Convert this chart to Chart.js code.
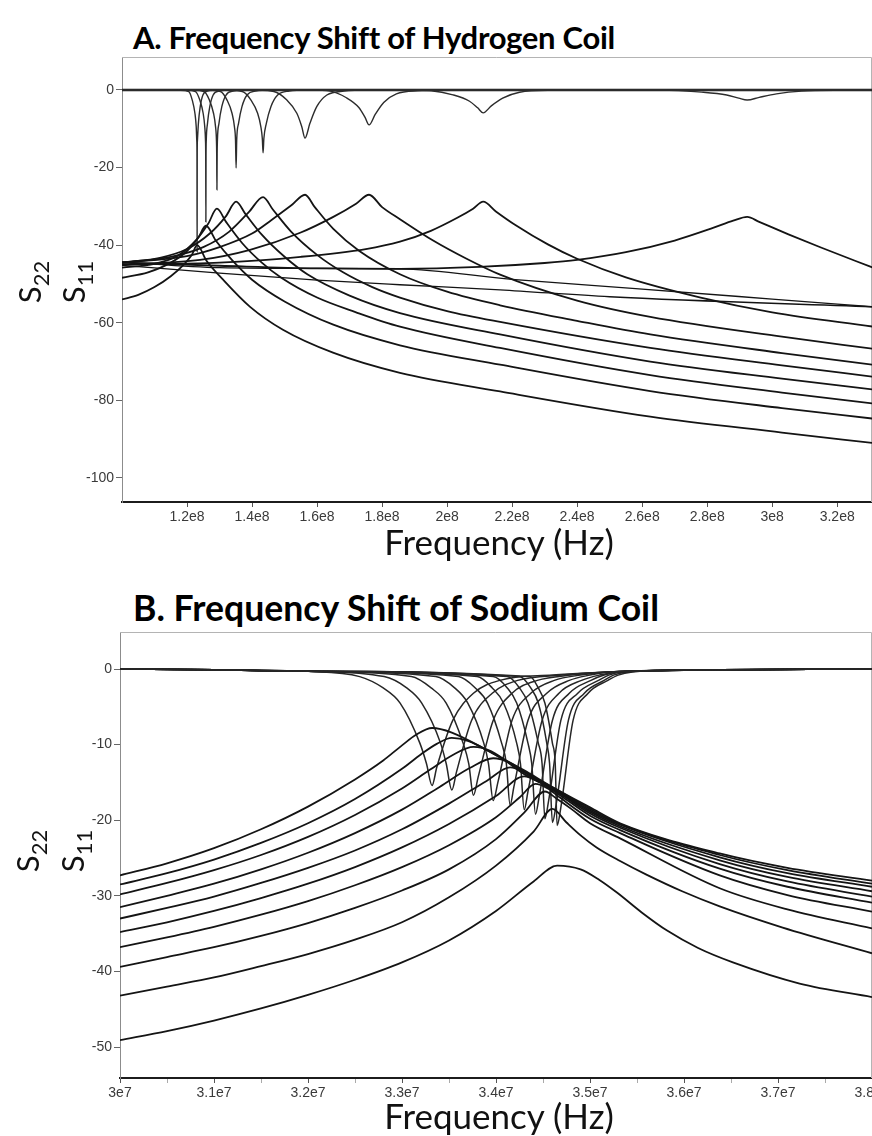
<!DOCTYPE html>
<html>
<head>
<meta charset="utf-8">
<script src="https://cdn.jsdelivr.net/npm/chart.js@4.4.1/dist/chart.umd.min.js"></script>
<style>
  body { margin: 0; width: 872px; height: 1136px; background: #fff; position: relative; overflow: hidden; font-family: Lato, sans-serif; }
  canvas { position: absolute; left: 0; }
  .title { position: absolute; left: 133px; font-weight: 700; line-height: 1; white-space: nowrap; color: #000; }
  .xlab { position: absolute; font-size: 35px; line-height: 1; white-space: nowrap; color: #111; transform: translateX(-50%); }
  .ylab { position: absolute; font-size: 31px; line-height: 1; white-space: nowrap; color: #111; transform: translate(-50%, -50%) rotate(-90deg); }
  .ylab sub { font-size: 22px; vertical-align: -0.35em; }
</style>
</head>
<body>
<div class="title" style="top:22px;font-size:31px;letter-spacing:-0.3px">A. Frequency Shift of Hydrogen Coil</div>
<canvas id="hydro" width="872" height="500" style="top:50px"></canvas>
<div class="xlab" style="left:499px;top:524px">Frequency (Hz)</div>
<div class="ylab" style="left:33px;top:282px">S<sub>22</sub></div>
<div class="ylab" style="left:77px;top:282px">S<sub>11</sub></div>

<div class="title" style="top:590px;font-size:35.6px">B. Frequency Shift of Sodium Coil</div>
<canvas id="sodium" width="872" height="490" style="top:625px"></canvas>
<div class="xlab" style="left:499px;top:1098px">Frequency (Hz)</div>
<div class="ylab" style="left:31px;top:851px">S<sub>22</sub></div>
<div class="ylab" style="left:76px;top:851px">S<sub>11</sub></div>

<script>
// Hydrogen coil, frequency in units of 1e8 Hz, values in dB
const hydroXTicks = [1.2e8, 1.4e8, 1.6e8, 1.8e8, 2e8, 2.2e8, 2.4e8, 2.6e8, 2.8e8, 3e8, 3.2e8];
const hydroYTicks = [-100, -80, -60, -40, -20, 0];

const hydroBase = [[1.0, 0], [3.31, 0]];
const hydroDip1 = [[1.0,0],[1.18,-0.1],[1.2054,-0.4],[1.2161,-2.6],[1.2243,-6],[1.2283,-9.5],[1.23,-13],[1.2306,-16],[1.231,-41.7],[1.2314,-16],[1.232,-13],[1.235,-8.6],[1.2406,-4.3],[1.2489,-1.3],[1.263,-0.3],[1.3,-0.05],[3.31,0]];
const hydroDip2 = [[1.0,0],[1.2,-0.1],[1.226,-0.4],[1.2394,-2.6],[1.2496,-6],[1.2546,-9.5],[1.2568,-13],[1.2575,-17],[1.258,-34],[1.2585,-17],[1.2592,-13],[1.263,-8.6],[1.27,-4.3],[1.2804,-1.3],[1.298,-0.3],[1.34,-0.05],[3.31,0]];
const hydroDip3 = [[1.0,0],[1.22,-0.1],[1.252,-0.4],[1.2688,-2.6],[1.2815,-6],[1.2878,-9.5],[1.2905,-13],[1.2913,-16.5],[1.292,-25.7],[1.2927,-16.5],[1.2935,-13],[1.2983,-8.6],[1.307,-4.3],[1.32,-1.3],[1.342,-0.3],[1.39,-0.05],[3.31,0]];
const hydroDip4 = [[1.0,0],[1.27,-0.1],[1.303,-0.4],[1.3231,-2.6],[1.3384,-6],[1.3459,-9.5],[1.3492,-13],[1.351,-20.1],[1.3528,-13],[1.3585,-8.6],[1.369,-4.3],[1.3846,-1.3],[1.411,-0.3],[1.46,-0.05],[3.31,0]];
const hydroDip5 = [[1.0,0],[1.33,-0.1],[1.37,-0.4],[1.3968,-2.6],[1.4172,-6],[1.4272,-9.5],[1.4316,-12.5],[1.434,-16.2],[1.4364,-12.5],[1.444,-8.6],[1.458,-4.3],[1.4788,-1.3],[1.514,-0.3],[1.57,-0.05],[3.31,0]];
const hydroDip6 = [[1.0,0],[1.42,-0.1],[1.467,-0.4],[1.5072,-2.6],[1.5378,-6],[1.5528,-9.4],[1.563,-12.4],[1.578,-8.6],[1.599,-4.3],[1.6302,-1.3],[1.683,-0.3],[1.76,-0.05],[3.31,0]];
const hydroDip7 = [[1.0,0],[1.58,-0.05],[1.64,-0.3],[1.6903,-2],[1.7285,-4.5],[1.7473,-7],[1.76,-9],[1.7788,-6.3],[1.805,-3.2],[1.844,-1.0],[1.91,-0.2],[2.0,-0.05],[3.31,0]];
const hydroDip8 = [[1.0,0],[1.88,-0.05],[1.951,-0.2],[2.018,-1.25],[2.069,-2.9],[2.094,-4.6],[2.111,-5.9],[2.136,-4.1],[2.171,-2.1],[2.223,-0.6],[2.311,-0.1],[3.31,0]];
const hydroDip9 = [[1.0,0],[2.6,-0.02],[2.683,-0.1],[2.783,-0.55],[2.86,-1.3],[2.897,-2.1],[2.923,-2.6],[2.96,-1.9],[3.013,-1.0],[3.091,-0.3],[3.223,-0.05],[3.31,0]];

const hydroPeak1 = [[1.0,-54],[1.05,-52.8],[1.1,-50.8],[1.15,-48],[1.19,-45],[1.215,-42.5],[1.231,-40],[1.26,-44],[1.311,-48.9],[1.394,-55.9],[1.495,-61.8],[1.649,-67.7],[1.855,-72.9],[2.163,-77.7],[2.625,-84.2],[3.03,-88.3],[3.31,-91]];
const hydroPeak2 = [[1.0,-48.4],[1.08,-47],[1.15,-44.5],[1.2,-41.5],[1.235,-38],[1.258,-35],[1.29,-39],[1.34,-44],[1.4,-48.9],[1.5,-54.5],[1.65,-60.5],[1.855,-65.8],[2.163,-70.8],[2.625,-77.6],[3.03,-82],[3.31,-84.7]];
const hydroPeak3 = [[1.0,-45.8],[1.1,-44.8],[1.17,-42.8],[1.23,-38.5],[1.265,-34.5],[1.292,-30.6],[1.32,-34],[1.37,-39.5],[1.43,-44.5],[1.49,-48.4],[1.6,-53.5],[1.72,-57.3],[1.855,-61],[2.163,-66.5],[2.625,-73.5],[3.03,-78],[3.31,-80.8]];
const hydroPeak4 = [[1.0,-44.5],[1.12,-43.2],[1.2,-41],[1.27,-37],[1.32,-32.5],[1.351,-28.8],[1.38,-32],[1.43,-37.3],[1.5,-43],[1.57,-47.5],[1.7,-53],[1.855,-57.5],[2.163,-63],[2.625,-70],[3.03,-74.4],[3.31,-77.2]];
const hydroPeak5 = [[1.0,-44.5],[1.15,-43],[1.25,-40.5],[1.33,-36.5],[1.39,-31.5],[1.434,-27.6],[1.464,-30.8],[1.52,-36.5],[1.6,-42.5],[1.68,-47],[1.77,-50.8],[1.855,-53.5],[2.0,-57],[2.163,-59.8],[2.625,-66.5],[3.03,-71],[3.31,-73.9]];
const hydroPeak6 = [[1.0,-44.5],[1.2,-42.8],[1.3,-40.5],[1.4,-37],[1.46,-33.5],[1.52,-29.8],[1.563,-27],[1.593,-30.2],[1.65,-35.8],[1.73,-41.5],[1.855,-47.5],[2.0,-52],[2.163,-55.5],[2.4,-59.5],[2.625,-63],[3.03,-67.8],[3.31,-70.8]];
const hydroPeak7 = [[1.0,-45],[1.24,-43.8],[1.394,-41.2],[1.548,-36.8],[1.65,-32.7],[1.72,-29.3],[1.76,-27],[1.8,-30.2],[1.855,-33.3],[1.957,-38.8],[2.06,-43.5],[2.163,-47.6],[2.4,-54.3],[2.625,-58.5],[3.03,-63.6],[3.31,-66.7]];
const hydroPeak8 = [[1.0,-45],[1.3,-44.5],[1.55,-43],[1.75,-41],[1.855,-39.1],[1.95,-36.3],[2.03,-33],[2.08,-30.6],[2.111,-28.8],[2.15,-31.3],[2.21,-34.8],[2.31,-39.8],[2.4,-43.5],[2.55,-48.3],[2.78,-53.5],[3.0,-57.3],[3.31,-61]];
const hydroPeak9 = [[1.0,-44.5],[1.3,-45.3],[1.6,-46],[1.855,-46.1],[2.1,-45.6],[2.3,-44.6],[2.4,-43.8],[2.55,-41.8],[2.7,-38.8],[2.82,-35.5],[2.88,-33.7],[2.923,-32.7],[2.96,-34],[3.05,-37.2],[3.15,-40.6],[3.31,-45.8]];
const hydroLineA = [[1.0,-44.3],[1.3,-45.8],[1.6,-46],[1.855,-46.1],[2.2,-48.8],[2.58,-51.2],[3.0,-53.9],[3.31,-55.9]];
const hydroLineB = [[1.0,-45.2],[1.3,-47.2],[1.6,-49],[1.855,-50.2],[2.163,-51.5],[2.5,-53.3],[3.31,-55.9]];

// Sodium coil, frequency in units of 1e7 Hz, values in dB
const sodiumXTicks = [3e7, 3.1e7, 3.2e7, 3.3e7, 3.4e7, 3.5e7, 3.6e7, 3.7e7, 3.8e7];
const sodiumXMinor = [3.05e7, 3.15e7, 3.25e7, 3.35e7, 3.45e7, 3.55e7, 3.65e7, 3.75e7];
const sodiumYTicks = [-50, -40, -30, -20, -10, 0];

const sodiumDip1 = [[3.0,0],[3.1,-0.1],[3.2,-0.3],[3.255,-1],[3.28,-2.5],[3.298,-4.5],[3.319,-9.8],[3.326,-12.5],[3.332,-15.4],[3.337,-13],[3.354,-6.8],[3.376,-3.2],[3.404,-1.5],[3.46,-0.8],[3.52,-0.4],[3.6,-0.15],[3.8,0]];
const sodiumDip2 = [[3.0,0],[3.1,-0.1],[3.2,-0.3],[3.281,-1],[3.305,-2.5],[3.321,-4.5],[3.341,-9.8],[3.347,-12.5],[3.353,-16],[3.358,-13.6],[3.374,-6.8],[3.396,-3.2],[3.423,-1.5],[3.47,-0.8],[3.52,-0.4],[3.6,-0.15],[3.8,0]];
const sodiumDip3 = [[3.0,0],[3.1,-0.1],[3.2,-0.3],[3.31,-1],[3.331,-2.5],[3.347,-4.5],[3.365,-9.8],[3.371,-12.5],[3.376,-16.7],[3.381,-14.3],[3.397,-6.8],[3.417,-3.2],[3.444,-1.5],[3.48,-0.8],[3.52,-0.4],[3.6,-0.15],[3.8,0]];
const sodiumDip4 = [[3.0,0],[3.1,-0.1],[3.2,-0.3],[3.336,-1],[3.356,-2.5],[3.37,-4.5],[3.387,-9.8],[3.392,-12.5],[3.397,-17.4],[3.402,-15],[3.417,-6.8],[3.437,-3.2],[3.462,-1.5],[3.49,-0.8],[3.52,-0.4],[3.6,-0.15],[3.8,0]];
const sodiumDip5 = [[3.0,0],[3.1,-0.1],[3.2,-0.3],[3.36,-1],[3.378,-2.5],[3.391,-4.5],[3.406,-9.8],[3.411,-12.5],[3.415,-18],[3.419,-15.6],[3.434,-6.8],[3.454,-3.2],[3.478,-1.5],[3.5,-0.8],[3.52,-0.4],[3.6,-0.15],[3.8,0]];
const sodiumDip6 = [[3.0,0],[3.1,-0.1],[3.2,-0.3],[3.38,-1],[3.396,-2.5],[3.408,-4.5],[3.422,-9.8],[3.426,-12.5],[3.43,-18.6],[3.434,-16.2],[3.449,-6.8],[3.467,-3.2],[3.491,-1.5],[3.51,-0.8],[3.53,-0.4],[3.6,-0.15],[3.8,0]];
const sodiumDip7 = [[3.0,0],[3.1,-0.1],[3.2,-0.3],[3.397,-1],[3.412,-2.5],[3.422,-4.5],[3.434,-9.8],[3.438,-12.5],[3.442,-19.2],[3.446,-16.8],[3.46,-6.8],[3.478,-3.2],[3.501,-1.5],[3.515,-0.8],[3.53,-0.4],[3.6,-0.15],[3.8,0]];
const sodiumDip8 = [[3.0,0],[3.1,-0.1],[3.2,-0.3],[3.412,-1],[3.425,-2.5],[3.434,-4.5],[3.445,-9.8],[3.449,-12.5],[3.452,-19.8],[3.456,-17.4],[3.469,-6.8],[3.487,-3.2],[3.509,-1.5],[3.52,-0.8],[3.535,-0.4],[3.6,-0.15],[3.8,0]];
const sodiumDip9 = [[3.0,0],[3.1,-0.1],[3.2,-0.3],[3.425,-1],[3.437,-2.5],[3.445,-4.5],[3.454,-9.8],[3.457,-12.5],[3.46,-20.3],[3.464,-17.9],[3.477,-6.8],[3.494,-3.2],[3.515,-1.5],[3.525,-0.8],[3.54,-0.4],[3.6,-0.15],[3.8,0]];
const sodiumDip10 = [[3.0,0],[3.1,-0.1],[3.2,-0.3],[3.436,-1],[3.445,-2.5],[3.452,-4.5],[3.46,-9.8],[3.463,-12.5],[3.465,-20.7],[3.469,-18.3],[3.482,-6.8],[3.498,-3.2],[3.519,-1.5],[3.53,-0.8],[3.545,-0.4],[3.6,-0.15],[3.8,0]];

const sodiumPeak1 = [[3.0,-27.3],[3.05,-25.7],[3.1,-23.7],[3.15,-21.2],[3.2,-18.2],[3.25,-14.6],[3.28,-12.1],[3.3,-10.1],[3.315,-8.7],[3.332,-7.8],[3.353,-8.4],[3.39,-10.7],[3.43,-13.4],[3.46,-15.6],[3.5,-18.3],[3.532,-20.4],[3.638,-24.4],[3.71,-26.3],[3.8,-28]];
const sodiumPeak2 = [[3.0,-28.5],[3.05,-27],[3.1,-25.2],[3.15,-23],[3.2,-20.4],[3.25,-17.2],[3.3,-13.2],[3.32,-11.3],[3.337,-9.9],[3.353,-9.1],[3.37,-9.5],[3.4,-11.4],[3.43,-13.6],[3.468,-16.2],[3.5,-18.5],[3.532,-20.5],[3.638,-24.6],[3.71,-26.6],[3.8,-28.4]];
const sodiumPeak3 = [[3.0,-29.8],[3.05,-28.3],[3.1,-26.6],[3.15,-24.6],[3.2,-22.2],[3.25,-19.3],[3.3,-15.8],[3.33,-13.3],[3.355,-11.3],[3.376,-10.3],[3.395,-10.9],[3.43,-13.9],[3.468,-16.3],[3.5,-18.7],[3.532,-20.6],[3.638,-24.9],[3.71,-27],[3.8,-28.8]];
const sodiumPeak4 = [[3.0,-31.5],[3.05,-30],[3.1,-28.4],[3.15,-26.5],[3.2,-24.3],[3.25,-21.7],[3.3,-18.6],[3.34,-15.6],[3.372,-13.1],[3.397,-11.8],[3.415,-12.4],[3.44,-14.4],[3.468,-16.4],[3.5,-18.9],[3.532,-20.8],[3.638,-25.3],[3.71,-27.5],[3.8,-29.4]];
const sodiumPeak5 = [[3.0,-33],[3.05,-31.6],[3.1,-30.1],[3.15,-28.3],[3.2,-26.3],[3.25,-24],[3.3,-21.2],[3.35,-17.8],[3.39,-14.8],[3.415,-13],[3.432,-13.8],[3.468,-16.5],[3.5,-19.1],[3.532,-21],[3.638,-25.8],[3.71,-28.1],[3.8,-30.1]];
const sodiumPeak6 = [[3.0,-34.8],[3.05,-33.5],[3.1,-32],[3.15,-30.3],[3.2,-28.4],[3.25,-26.2],[3.3,-23.6],[3.35,-20.5],[3.4,-16.8],[3.43,-14.2],[3.445,-14.9],[3.468,-16.7],[3.5,-19.4],[3.532,-21.3],[3.638,-26.4],[3.71,-28.8],[3.8,-30.9]];
const sodiumPeak7 = [[3.0,-36.8],[3.05,-35.5],[3.1,-34.1],[3.15,-32.5],[3.2,-30.7],[3.25,-28.6],[3.3,-26.2],[3.35,-23.3],[3.4,-19.6],[3.425,-17],[3.442,-15.2],[3.455,-15.8],[3.468,-17],[3.5,-19.8],[3.532,-21.7],[3.638,-27.3],[3.71,-29.9],[3.8,-32.1]];
const sodiumPeak8 = [[3.0,-39.4],[3.05,-38.1],[3.1,-36.8],[3.15,-35.3],[3.2,-33.6],[3.25,-31.6],[3.3,-29.3],[3.35,-26.5],[3.4,-22.5],[3.43,-19],[3.452,-16.2],[3.465,-17.2],[3.48,-18.5],[3.5,-20.4],[3.532,-22.4],[3.638,-29],[3.71,-31.8],[3.8,-34.3]];
const sodiumPeak9 = [[3.0,-43.2],[3.05,-42],[3.1,-40.8],[3.15,-39.3],[3.2,-37.7],[3.25,-35.8],[3.3,-33.5],[3.35,-30.2],[3.4,-26],[3.44,-21.5],[3.46,-18.5],[3.475,-20.3],[3.49,-22],[3.507,-23.6],[3.532,-25.4],[3.56,-27.2],[3.598,-29.4],[3.638,-31.4],[3.705,-34.2],[3.8,-37.6]];
const sodiumPeak10 = [[3.0,-49.1],[3.05,-47.9],[3.1,-46.5],[3.15,-44.9],[3.2,-43.1],[3.25,-41.1],[3.3,-38.8],[3.35,-35.9],[3.4,-32],[3.44,-28.1],[3.465,-26],[3.49,-26.5],[3.51,-27.9],[3.529,-29.6],[3.555,-32.2],[3.582,-34.6],[3.615,-36.9],[3.652,-38.8],[3.723,-41.6],[3.8,-43.4]];

const HZ_H = 1e8;
const HZ_NA = 1e7;

function sciLabel(v) {
  const e = Math.floor(Math.log10(v) + 1e-9);
  const m = Math.round(v / Math.pow(10, e) * 100) / 100;
  return m + 'e' + e;
}

function curve(pts, unit, width, color) {
  return {
    data: pts.map(([f, v]) => ({ x: f * unit, y: v })),
    showLine: true,
    borderColor: color || '#141414',
    borderWidth: width,
    pointRadius: 0,
    cubicInterpolationMode: 'monotone',
    fill: false
  };
}

// light box on top and right of the plot area
const framePlugin = {
  id: 'frame',
  beforeDatasetsDraw(chart) {
    const { ctx, chartArea: a } = chart;
    ctx.save();
    ctx.strokeStyle = '#b4b4b4';
    ctx.lineWidth = 1;
    ctx.beginPath();
    ctx.moveTo(a.left, a.top + 0.5);
    ctx.lineTo(a.right - 0.5, a.top + 0.5);
    ctx.lineTo(a.right - 0.5, a.bottom);
    ctx.stroke();
    ctx.restore();
  }
};

function makeChart(id, o) {
  const majors = new Set(o.xTicks);
  const allX = o.xTicks.concat(o.xMinor || []).sort((a, b) => a - b);
  return new Chart(document.getElementById(id), {
    type: 'scatter',
    data: { datasets: o.datasets },
    options: {
      responsive: false,
      animation: false,
      events: [],
      layout: { padding: { top: 7, right: o.padRight, left: 0, bottom: 0 } },
      plugins: { legend: { display: false }, tooltip: { enabled: false } },
      scales: {
        x: {
          type: 'linear',
          min: o.xMin,
          max: o.xMax,
          afterBuildTicks: s => { s.ticks = allX.map(value => ({ value })); },
          afterFit: s => { s.paddingLeft = 0; s.paddingRight = 0; s.height = o.xHeight; },
          border: { color: '#1c1c1c', width: 2 },
          grid: {
            drawOnChartArea: false,
            tickLength: 5,
            tickColor: c => (c.tick && majors.has(c.tick.value)) ? '#555' : '#aaa'
          },
          ticks: {
            autoSkip: false,
            maxRotation: 0,
            padding: 2,
            color: '#3a3a3a',
            font: { family: 'Liberation Sans', size: 14 },
            callback: v => majors.has(v) ? sciLabel(v) : ''
          }
        },
        y: {
          type: 'linear',
          min: o.yMin,
          max: o.yMax,
          afterBuildTicks: s => { s.ticks = o.yTicks.map(value => ({ value })); },
          afterFit: s => { s.width = o.yWidth; s.paddingTop = 0; s.paddingBottom = 0; },
          border: { color: '#8c8c8c', width: 1 },
          grid: { drawOnChartArea: false, tickLength: 6, tickColor: '#666' },
          ticks: {
            padding: 2,
            color: '#3a3a3a',
            font: { family: 'Liberation Sans', size: 14 },
            callback: v => String(v)
          }
        }
      }
    },
    plugins: [framePlugin]
  });
}

const hydroDips = [hydroDip1, hydroDip2, hydroDip3, hydroDip4, hydroDip5, hydroDip6, hydroDip7, hydroDip8, hydroDip9];
const hydroPeaks = [hydroPeak1, hydroPeak2, hydroPeak3, hydroPeak4, hydroPeak5, hydroPeak6, hydroPeak7, hydroPeak8, hydroPeak9];

makeChart('hydro', {
  xMin: 1e8, xMax: 3.307e8, yMin: -106.2, yMax: 8.5,
  xTicks: hydroXTicks, yTicks: hydroYTicks,
  yWidth: 122, xHeight: 48, padRight: 0,
  datasets: [
    curve(hydroLineA, HZ_H, 1.3),
    curve(hydroLineB, HZ_H, 1.3),
    ...hydroPeaks.map(p => curve(p, HZ_H, 1.8)),
    ...hydroDips.map(d => curve(d, HZ_H, 1.4, '#2c2c2c')),
    curve(hydroBase, HZ_H, 2.6)
  ]
});

const sodiumDips = [sodiumDip1, sodiumDip2, sodiumDip3, sodiumDip4, sodiumDip5, sodiumDip6, sodiumDip7, sodiumDip8, sodiumDip9, sodiumDip10];
const sodiumPeaks = [sodiumPeak1, sodiumPeak2, sodiumPeak3, sodiumPeak4, sodiumPeak5, sodiumPeak6, sodiumPeak7, sodiumPeak8, sodiumPeak9, sodiumPeak10];

makeChart('sodium', {
  xMin: 3e7, xMax: 3.8e7, yMin: -54.1, yMax: 4.9,
  xTicks: sodiumXTicks, xMinor: sodiumXMinor, yTicks: sodiumYTicks,
  yWidth: 120, xHeight: 37, padRight: 0,
  datasets: [
    ...sodiumPeaks.map(p => curve(p, HZ_NA, 1.8)),
    ...sodiumDips.map(d => curve(d, HZ_NA, 1.5, '#262626'))
  ]
});
</script>
</body>
</html>
